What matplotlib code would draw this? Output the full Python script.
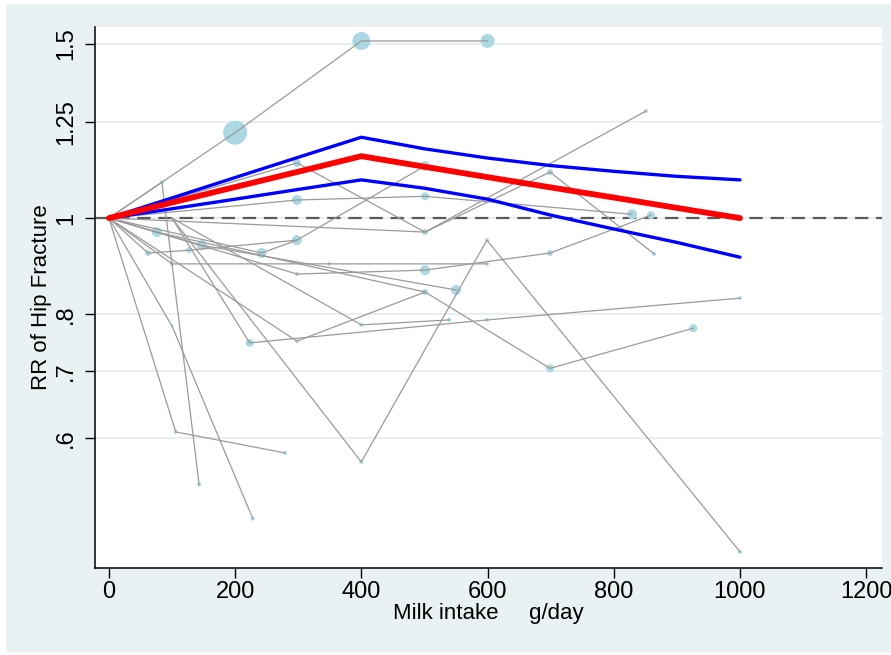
import numpy as np
import matplotlib.pyplot as plt
from matplotlib.patches import Rectangle
from matplotlib.ticker import FixedLocator, NullLocator

plt.rcParams['font.family'] = ['Liberation Sans', 'DejaVu Sans']

# individual study curves (dose g/day, RR, marker radius in px)
study_a_x = [0, 200, 400, 600]
study_a_y = [1, 1.22, 1.51, 1.51]
study_a_r = [0, 12, 9, 7]
study_b_x = [0, 84, 143]
study_b_y = [1, 1.087, 0.538]
study_b_r = [0, 2, 2]
study_c_x = [0, 298, 501, 699, 864]
study_c_y = [1, 1.137, 0.968, 1.113, 0.92]
study_c_r = [0, 4, 3, 3, 2]
study_d_x = [0, 298, 501, 829]
study_d_y = [1, 1.043, 1.052, 1.009]
study_d_r = [0, 5, 4, 5]
study_e_x = [0, 242, 298, 501]
study_e_y = [1, 0.922, 0.95, 1.129]
study_e_r = [0, 5, 5, 5]
study_p_x = [0, 501, 851]
study_p_y = [1, 0.968, 1.283]
study_p_r = [0, 0, 2]
study_f_x = [0, 298, 501, 699, 859]
study_f_y = [1, 0.878, 0.886, 0.922, 1.007]
study_f_r = [0, 2, 5, 3, 4]
study_g_x = [0, 100, 349, 599]
study_g_y = [1, 0.899, 0.899, 0.899]
study_g_r = [0, 2, 2, 2]
study_h_x = [0, 147, 550]
study_h_y = [1, 0.939, 0.846]
study_h_r = [0, 5, 5]
study_i_x = [100, 400, 539]
study_i_y = [1, 0.78, 0.789]
study_i_r = [0, 2, 2]
study_j_x = [100, 223, 599, 1000]
study_j_y = [1, 0.748, 0.789, 0.83]
study_j_r = [0, 4, 2, 2]
study_k_x = [0, 298, 501, 699, 926]
study_k_y = [1, 0.751, 0.842, 0.705, 0.774]
study_k_r = [0, 2, 3, 4, 4]
study_l_x = [0, 106, 279]
study_l_y = [1, 0.608, 0.579]
study_l_r = [0, 2, 2]
study_m_x = [0, 100, 228]
study_m_y = [1, 0.778, 0.497]
study_m_r = [0, 1.5, 2]
study_n_x = [0, 62, 127, 298]
study_n_y = [1, 0.922, 0.928, 0.95]
study_n_r = [0, 3, 3, 0]
study_o_x = [0, 76, 501]
study_o_y = [1, 0.968, 0.842]
study_o_r = [0, 5, 0]
study_v_x = [100, 400, 599, 1000]
study_v_y = [1, 0.567, 0.95, 0.46]
study_v_r = [0, 2, 2, 2]

# pooled dose-response and 95% CI
pool_x = [0, 100, 200, 300, 400, 500, 600, 700, 800, 900, 1000]
pool_rr = [1.0, 1.037, 1.075, 1.114, 1.155, 1.127, 1.100, 1.074, 1.049, 1.024, 1.0]
pool_hi = [1.0, 1.048, 1.099, 1.152, 1.207, 1.175, 1.150, 1.130, 1.115, 1.102, 1.093]
pool_lo = [1.0, 1.022, 1.045, 1.069, 1.093, 1.072, 1.045, 1.007, 0.975, 0.945, 0.913]

studies = [
    (study_a_x, study_a_y, study_a_r), (study_b_x, study_b_y, study_b_r),
    (study_c_x, study_c_y, study_c_r), (study_d_x, study_d_y, study_d_r),
    (study_e_x, study_e_y, study_e_r), (study_p_x, study_p_y, study_p_r),
    (study_f_x, study_f_y, study_f_r),
    (study_g_x, study_g_y, study_g_r), (study_h_x, study_h_y, study_h_r),
    (study_i_x, study_i_y, study_i_r), (study_j_x, study_j_y, study_j_r),
    (study_k_x, study_k_y, study_k_r), (study_l_x, study_l_y, study_l_r),
    (study_m_x, study_m_y, study_m_r), (study_n_x, study_n_y, study_n_r),
    (study_o_x, study_o_y, study_o_r), (study_v_x, study_v_y, study_v_r),
]

y_ticks = [0.6, 0.7, 0.8, 1, 1.25, 1.5]
y_labels = ['.6', '.7', '.8', '1', '1.25', '1.5']
x_ticks = [0, 200, 400, 600, 800, 1000, 1200]

fig = plt.figure(figsize=(8.91, 6.55), dpi=100)
fig.patches.append(Rectangle((6 / 891, 1 - 652 / 655), 885 / 891, 648 / 655,
                             transform=fig.transFigure, facecolor='#eaf1f3',
                             edgecolor='none', zorder=-10))
ax = fig.add_axes([95 / 891, 1 - 568 / 655, 787 / 891, 541 / 655])
ax.set_zorder(1)
ax.set_facecolor('white')
ax.set_yscale('log')
ax.set_xlim(-22, 1225)
ax.set_ylim(0.443, 1.56)

for t in y_ticks:
    ax.axhline(t, color='#e4eef0', lw=1.3, zorder=1)
ax.axhline(1, color='#5a5a5a', lw=1.6, ls=(0, (6, 3.5)), zorder=2)

for xs, ys, rs in studies:
    ax.plot(xs, ys, color='#9a9a9a', lw=0.9, zorder=3)
    sz = [(2 * r * 0.72) ** 2 for r in rs]
    ax.scatter(xs, ys, s=sz, color='#acd8e3', edgecolors='none', zorder=2.5)

ax.plot(pool_x, pool_hi, color='#0000ff', lw=2.4, zorder=4, solid_capstyle='round')
ax.plot(pool_x, pool_lo, color='#0000ff', lw=2.4, zorder=4, solid_capstyle='round')
ax.plot(pool_x, pool_rr, color='#ff0000', lw=4.2, zorder=5, solid_capstyle='round')

ax.yaxis.set_major_locator(FixedLocator(y_ticks))
ax.yaxis.set_minor_locator(NullLocator())
ax.set_yticklabels(y_labels, rotation=90, va='center')
ax.set_xticks(x_ticks)
ax.tick_params(axis='both', labelsize=17, length=7, width=1, color='black')
ax.tick_params(axis='y', pad=6)
ax.tick_params(axis='x', pad=2)

for s in ['top', 'right']:
    ax.spines[s].set_visible(False)
for s in ['left', 'bottom']:
    ax.spines[s].set_linewidth(1.1)

ax.set_ylabel('RR of Hip Fracture', fontsize=16)
ax.yaxis.set_label_coords(-0.0546, 0.5)
ax.set_xlabel('Milk intake     g/day', fontsize=16, labelpad=0)

fig.savefig('out.png', dpi=100, facecolor='white')
